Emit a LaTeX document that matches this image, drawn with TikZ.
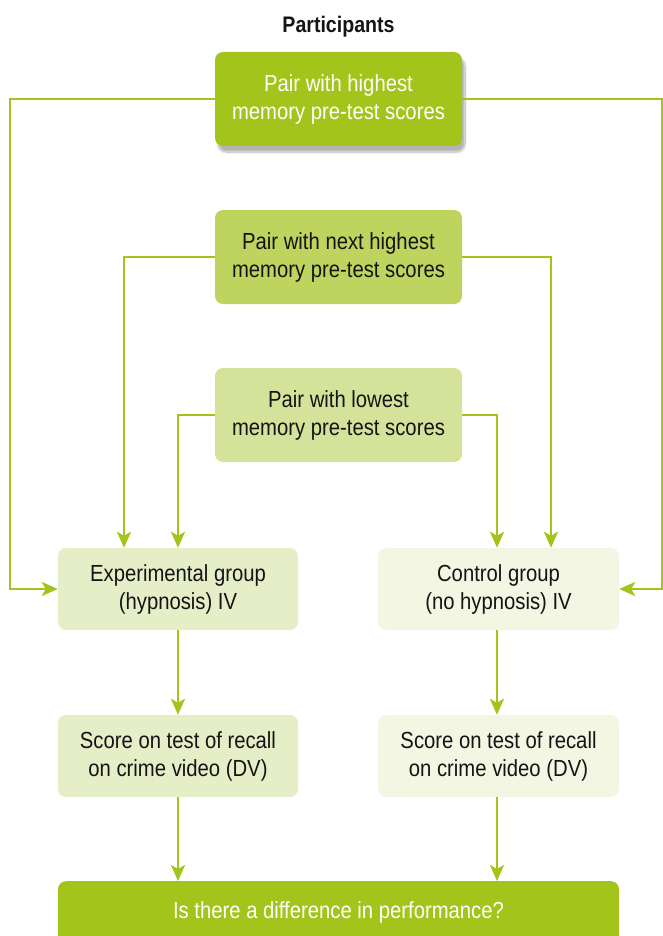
\documentclass[tikz,border=0pt]{standalone}
\usepackage{fontspec}
\setmainfont{Liberation Sans}[FakeStretch=0.87]
\usetikzlibrary{arrows.meta,shadows.blur}
\definecolor{lime}{RGB}{163,196,26}
\definecolor{limeB}{RGB}{190,212,94}
\definecolor{limeC}{RGB}{213,227,154}
\definecolor{limeD}{RGB}{230,238,200}
\definecolor{limeE}{RGB}{242,246,226}
\definecolor{ink}{RGB}{20,20,20}
\tikzset{
  box/.style={rounded corners=8pt, align=center, inner sep=0pt, font=\fontsize{23.3}{28}\selectfont, text=ink},
  pairbox/.style={box, minimum width=247pt, minimum height=94pt},
  groupbox/.style={box, minimum width=240pt, minimum height=82pt},
  link/.style={draw=lime, line width=2.8pt},
  arr/.style={link, -{Stealth[length=16pt,width=14pt,inset=4pt]}},
}
\begin{document}
\begin{tikzpicture}[x=1pt,y=-1pt]
\useasboundingbox (0,0) rectangle (663,936);

\node[font=\fontsize{22.5}{24}\selectfont\bfseries, text=ink] (title) at (338.5,27) {Participants};

\node[pairbox, fill=lime, text=white, blur shadow={shadow xshift=3pt, shadow yshift=-6pt, shadow blur steps=10, shadow blur extra rounding=4pt, shadow opacity=30}] (p1) at (338.5,99) {Pair with highest\\memory pre-test scores};
\node[pairbox, fill=limeB] (p2) at (338.5,257) {Pair with next highest\\memory pre-test scores};
\node[pairbox, fill=limeC] (p3) at (338.5,415) {Pair with lowest\\memory pre-test scores};

\node[groupbox, fill=limeD] (exp) at (178,589) {Experimental group\\(hypnosis) IV};
\node[groupbox, fill=limeE, minimum width=241pt] (ctl) at (498.5,589) {Control group\\(no hypnosis) IV};

\node[groupbox, fill=limeD] (rl) at (178,756) {Score on test of recall\\on crime video (DV)};
\node[groupbox, fill=limeE, minimum width=241pt] (rr) at (498.5,756) {Score on test of recall\\on crime video (DV)};

\node[box, fill=lime, text=white, minimum width=561pt, minimum height=62pt, anchor=north] (q) at (338.5,881) {\raisebox{3pt}{Is there a difference in performance?}};

% outer loop from the top pair
\coordinate (lft) at (10,99);
\coordinate (rgt) at (662,99);
\draw[arr] (p1.west) -- (lft) |- (exp.west);
\draw[arr] (p1.east) -- (rgt) |- (ctl.east);

% middle pair
\draw[arr] (p2.west) -| ([xshift=-54pt]exp.north);
\draw[arr] (p2.east) -| ([xshift=52.5pt]ctl.north);

% lowest pair
\draw[arr] (p3.west) -| (exp.north);
\draw[arr] (p3.east) -| ([xshift=-1.5pt]ctl.north);

% groups to scores to question
\draw[arr] (exp.south) -- (rl.north);
\draw[arr] ([xshift=-1.5pt]ctl.south) -- ([xshift=-1.5pt]rr.north);
\draw[arr] (rl.south) -- (rl.south |- q.north);
\draw[arr] ([xshift=-1.5pt]rr.south) -- ([xshift=-1.5pt]rr.south |- q.north);
\end{tikzpicture}
\end{document}
